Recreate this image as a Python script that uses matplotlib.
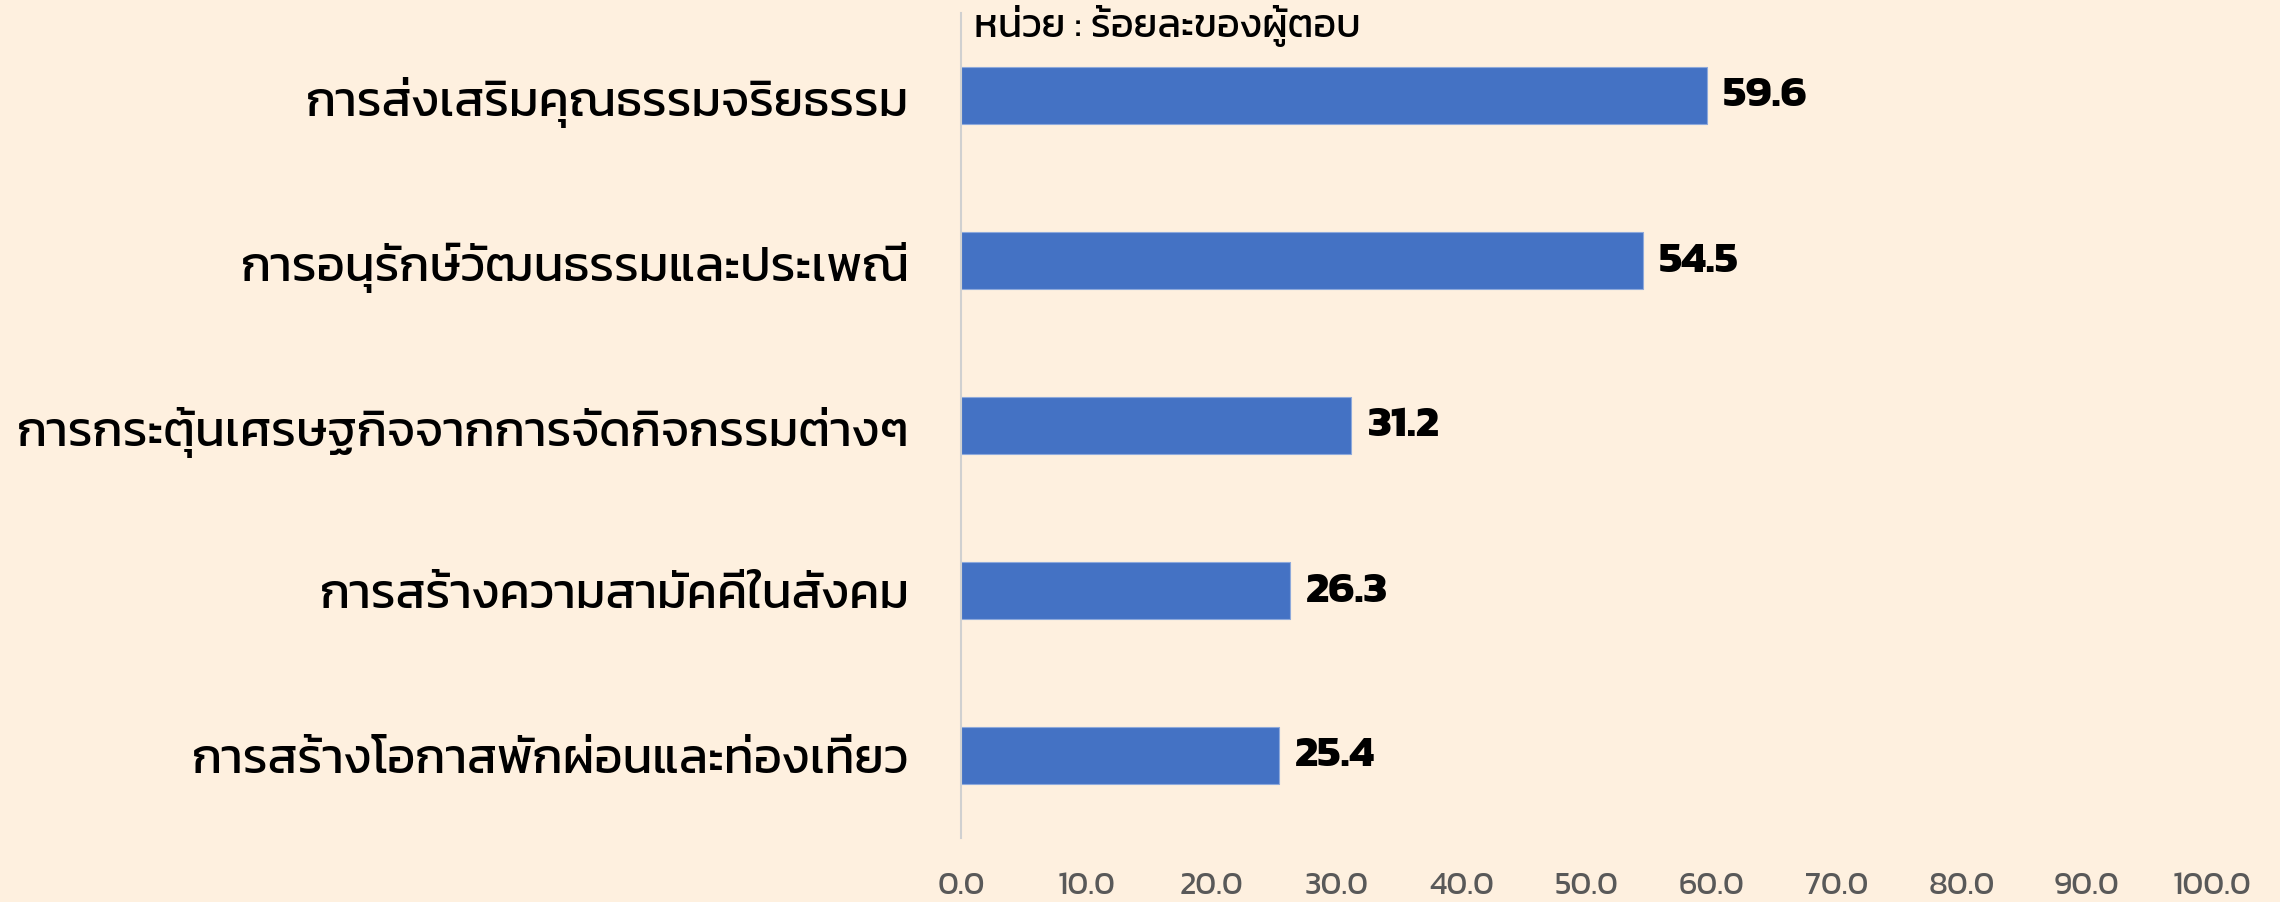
import matplotlib
matplotlib.use('Agg')
import matplotlib.pyplot as plt

categories = ['การส่งเสริมคุณธรรมจริยธรรม',
              'การอนุรักษ์วัฒนธรรมและประเพณี',
              'การกระตุ้นเศรษฐกิจจากการจัดกิจกรรมต่างๆ',
              'การสร้างความสามัคคีในสังคม',
              'การสร้างโอกาสพักผ่อนและท่องเที่ยว']
values = [59.6, 54.5, 31.2, 26.3, 25.4]
xticks = [0, 10, 20, 30, 40, 50, 60, 70, 80, 90, 100]

bg = '#FEF0DF'
plt.rcParams['font.family'] = ['Kanit', 'DejaVu Sans']

fig = plt.figure(figsize=(22.8, 9.03), dpi=100, facecolor=bg)
ax = fig.add_axes([961/2280, 64/903, 1251/2280, 825/903])
ax.set_facecolor(bg)

y = list(range(len(categories)))
ax.barh(y, values, height=0.35, color='#4472C4', edgecolor='#8EA9DB', linewidth=0.8)
ax.set_ylim(len(categories) - 0.5, -0.5)
ax.set_xlim(0, 100)
ax.set_yticks(y)
ax.set_yticklabels(categories, fontsize=35.4)
ax.set_xticks(xticks)
ax.set_xticklabels(['%.1f' % t for t in xticks], fontsize=23, color='#595959')
ax.tick_params(axis='both', length=0)
ax.tick_params(axis='y', pad=37)
ax.tick_params(axis='x', pad=24)
for s in ['top', 'right', 'bottom']:
    ax.spines[s].set_visible(False)
ax.spines['left'].set_color('#D0D0D0')
ax.spines['left'].set_linewidth(1.5)

for i, v in enumerate(values):
    ax.text(v + 1.3, i, '%.1f' % v, va='center', ha='left', fontsize=32,
            fontweight='bold', color='black')

ax.text(0.01, 0.985, 'หน่วย : ร้อยละของผู้ตอบ', transform=ax.transAxes,
        fontsize=28.5, va='center', ha='left')

plt.savefig('out.png', dpi=100, facecolor=bg)
